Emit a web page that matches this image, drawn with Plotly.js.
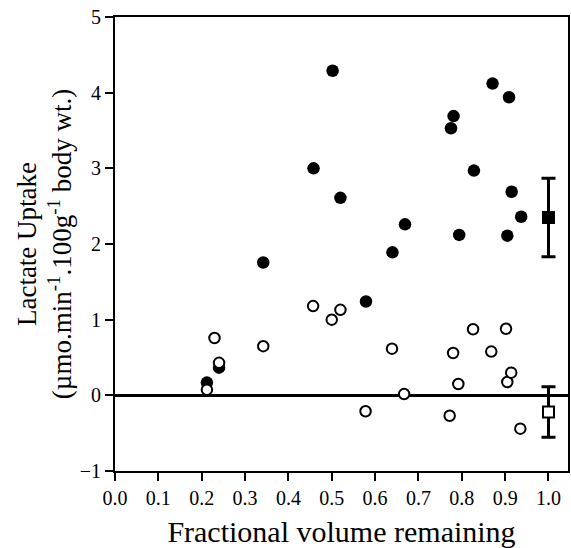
<!DOCTYPE html>
<html>
<head>
<meta charset="utf-8">
<script src="https://cdn.plot.ly/plotly-3.0.1.min.js"></script>
<style>html,body{margin:0;padding:0;background:#fff;}#chart{width:571px;height:548px;}</style>
</head>
<body>
<div id="chart"></div>
<script>
// Filled circles (individual values, series 1)
const filledX = [0.212, 0.240, 0.342, 0.458, 0.502, 0.520, 0.579, 0.640, 0.669, 0.775, 0.781, 0.794, 0.828, 0.871, 0.909, 0.905, 0.915, 0.937];
const filledY = [0.168, 0.366, 1.755, 3.00, 4.29, 2.61, 1.24, 1.89, 2.26, 3.53, 3.69, 2.12, 2.97, 4.12, 3.94, 2.11, 2.69, 2.36];
// Open circles (individual values, series 2)
const openX = [0.212, 0.2295, 0.240, 0.342, 0.457, 0.500, 0.520, 0.578, 0.639, 0.667, 0.772, 0.780, 0.792, 0.826, 0.868, 0.902, 0.905, 0.914, 0.935];
const openY = [0.075, 0.758, 0.43, 0.65, 1.18, 1.00, 1.13, -0.21, 0.617, 0.017, -0.27, 0.56, 0.15, 0.873, 0.578, 0.88, 0.176, 0.30, -0.44];
// Means with error bars
const meanX = [1.0];
const filledMean = [2.35];
const filledErr = [0.52];
const openMean = [-0.22];
const openErr = [0.335];

const xTicks = [0.0, 0.1, 0.2, 0.3, 0.4, 0.5, 0.6, 0.7, 0.8, 0.9, 1.0];
const yTicks = [-1, 0, 1, 2, 3, 4, 5];

const FONT = '"Liberation Serif", "Times New Roman", Times, serif';

const traces = [
  {x: filledX, y: filledY, type: 'scatter', mode: 'markers',
   marker: {symbol: 'circle', size: 12.5, color: '#000', line: {width: 0}}, hoverinfo: 'x+y'},
  {x: openX, y: openY, type: 'scatter', mode: 'markers',
   marker: {symbol: 'circle', size: 10.5, color: '#fff', line: {width: 2, color: '#000'}}, hoverinfo: 'x+y'},
  {x: meanX, y: filledMean, type: 'scatter', mode: 'markers',
   marker: {symbol: 'square', size: 13, color: '#000', line: {width: 0}},
   error_y: {type: 'data', array: filledErr, visible: true, color: '#000', thickness: 3, width: 7}},
  {x: meanX, y: openMean, type: 'scatter', mode: 'markers',
   marker: {symbol: 'square', size: 11, color: '#fff', line: {width: 2, color: '#000'}},
   error_y: {type: 'data', array: openErr, visible: true, color: '#000', thickness: 3, width: 7}}
];

const layout = {
  width: 571, height: 548,
  margin: {l: 115, r: 3, t: 17, b: 77},
  paper_bgcolor: '#fff', plot_bgcolor: '#fff',
  showlegend: false,
  font: {family: FONT, color: '#000', size: 20},
  xaxis: {
    range: [0, 1.045], tickvals: xTicks, tickformat: '.1f',
    showgrid: false, zeroline: false,
    showline: true, linecolor: '#000', linewidth: 2, mirror: true,
    ticks: 'outside', ticklen: 8, tickwidth: 2, tickcolor: '#000',
    tickfont: {family: FONT, size: 20, color: '#000'},
    title: {text: 'Fractional volume remaining', font: {family: FONT, size: 30, color: '#000'}, standoff: 17}
  },
  yaxis: {
    range: [-1, 5], tickvals: yTicks,
    showgrid: false,
    zeroline: true, zerolinecolor: '#000', zerolinewidth: 3,
    showline: true, linecolor: '#000', linewidth: 2, mirror: true,
    ticks: 'outside', ticklen: 8, tickwidth: 2, tickcolor: '#000',
    tickfont: {family: FONT, size: 20, color: '#000'},
    title: {text: 'Lactate Uptake<br>(µmo.min<sup>-1</sup>.100g<sup>-1</sup> body wt.)', font: {family: FONT, size: 27, color: '#000'}, standoff: 0}
  }
};

Plotly.newPlot('chart', traces, layout, {displayModeBar: false, staticPlot: true});
</script>
</body>
</html>
